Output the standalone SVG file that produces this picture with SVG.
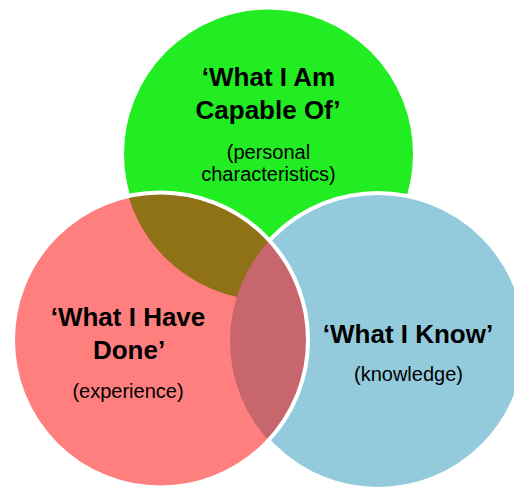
<svg xmlns="http://www.w3.org/2000/svg" width="514" height="489" viewBox="0 0 514 489">
  <style>
    .ring { stroke: #ffffff; stroke-width: 4; }
    .title { font-family: "Liberation Sans", Arial, sans-serif; font-weight: bold; font-size: 26px; fill: #000000; text-anchor: middle; }
    .sub { font-family: "Liberation Sans", Arial, sans-serif; font-size: 20px; fill: #000000; text-anchor: middle; }
  </style>
  <defs>
    <clipPath id="clipGreen"><circle cx="268.5" cy="154" r="146.5"/></clipPath>
    <clipPath id="clipBlue"><circle cx="378" cy="341" r="148"/></clipPath>
  </defs>
  <rect width="514" height="489" fill="#ffffff"/>
  <g id="capable">
    <circle class="ring" cx="268.5" cy="154" r="146.5" fill="#22ec22"/>
    <text class="title" x="268.5" y="86">‘What I Am</text>
    <text class="title" x="268" y="119">Capable Of’</text>
    <text class="sub" x="268.5" y="159">(personal</text>
    <text class="sub" x="268.5" y="181">characteristics)</text>
  </g>
  <g id="know">
    <circle class="ring" cx="378" cy="341" r="148" fill="#93cbdc"/>
    <text class="title" x="408" y="343">‘What I Know’</text>
    <text class="sub" x="408.5" y="381">(knowledge)</text>
  </g>
  <g id="done">
    <circle cx="160.5" cy="340" r="147.5" fill="#ff7f7f"/>
    <circle cx="160.5" cy="340" r="147.5" fill="#8f7116" clip-path="url(#clipGreen)"/>
    <circle cx="160.5" cy="340" r="147.5" fill="#c8666e" clip-path="url(#clipBlue)"/>
    <circle class="ring" cx="160.5" cy="340" r="147.5" fill="none"/>
    <text class="title" x="128" y="326">‘What I Have</text>
    <text class="title" x="129" y="359">Done’</text>
    <text class="sub" x="128" y="398">(experience)</text>
  </g>
  <g id="connectors"/>
</svg>
